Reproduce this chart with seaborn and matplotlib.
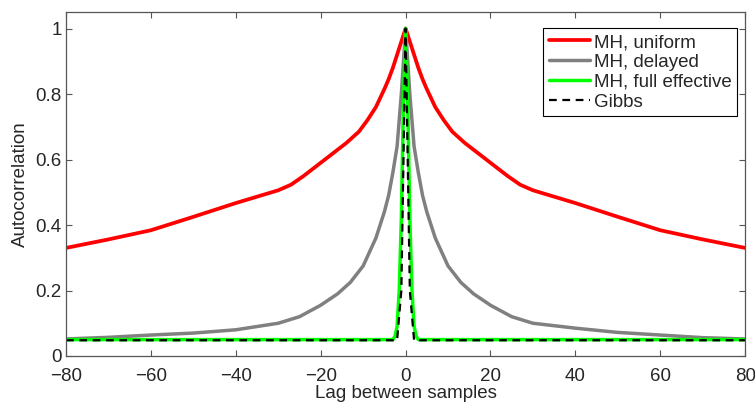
import numpy as np
import pandas as pd
import matplotlib
matplotlib.use("Agg")
import matplotlib.pyplot as plt
import seaborn as sns
from matplotlib.ticker import FuncFormatter

# ── Data ──────────────────────────────────────────────────────
uniform_lag = [-80, -70, -60, -50, -40, -30, -27, -24, -20, -17, -14, -11, -9, -7, -5, -4, -3, -2, -1, 0,
               1, 2, 3, 4, 5, 7, 9, 11, 14, 17, 20, 24, 27, 30, 40, 50, 60, 70, 80]
uniform_acf = [0.33, 0.356, 0.384, 0.425, 0.467, 0.506, 0.523, 0.55, 0.59, 0.62, 0.65, 0.685,
               0.72, 0.76, 0.815, 0.845, 0.88, 0.92, 0.96, 1.0,
               0.96, 0.92, 0.88, 0.845, 0.815, 0.76, 0.72, 0.685, 0.65, 0.62, 0.59, 0.55,
               0.523, 0.506, 0.467, 0.425, 0.384, 0.356, 0.33]

delayed_lag = [-80, -70, -60, -50, -40, -30, -25, -20, -16, -13, -10, -7, -5, -4, -3, -2, -1, 0,
               1, 2, 3, 4, 5, 7, 10, 13, 16, 20, 25, 30, 40, 50, 60, 70, 80]
delayed_acf = [0.052, 0.057, 0.064, 0.07, 0.08, 0.1, 0.12, 0.155, 0.19, 0.225, 0.275, 0.36,
               0.44, 0.49, 0.56, 0.64, 0.8, 1.0,
               0.8, 0.64, 0.56, 0.49, 0.44, 0.36, 0.275, 0.225, 0.19, 0.155, 0.12, 0.1,
               0.085, 0.072, 0.064, 0.056, 0.052]

full_lag = [-80, -3, -2.5, -2, -1.5, -1, -0.5, 0, 0.5, 1, 1.5, 2, 2.5, 3, 80]
full_acf = [0.05, 0.05, 0.06, 0.09, 0.2, 0.42, 0.78, 1.0, 0.78, 0.42, 0.2, 0.09, 0.06, 0.05, 0.05]

gibbs_lag = [-80, -2, -1, 0, 1, 2, 80]
gibbs_acf = [0.048, 0.048, 0.2, 1.0, 0.2, 0.048, 0.048]

sns.set_style("ticks")
plt.rcParams["font.family"] = ["Liberation Sans", "DejaVu Sans"]

fig = plt.figure(figsize=(7.55, 4.05), dpi=100)
ax = fig.add_axes([0.0874, 0.121, 0.8996, 0.849])

sns.lineplot(x=uniform_lag, y=uniform_acf, ax=ax, color=(1, 0, 0), linewidth=2.7,
             label="MH, uniform")
sns.lineplot(x=delayed_lag, y=delayed_acf, ax=ax, color=(0.5, 0.5, 0.5), linewidth=2.5,
             label="MH, delayed")
sns.lineplot(x=full_lag, y=full_acf, ax=ax, color=(0, 1, 0), linewidth=2.5,
             label="MH, full effective")
sns.lineplot(x=gibbs_lag, y=gibbs_acf, ax=ax, color="black", linewidth=1.6,
             linestyle=(0, (3.5, 2.5)), label="Gibbs")

ax.set_xlim(-80, 80)
ax.set_ylim(0, 1.05)
ax.set_xticks(np.arange(-80, 81, 20))
ax.set_yticks([0, 0.2, 0.4, 0.6, 0.8, 1.0])
ax.yaxis.set_major_formatter(FuncFormatter(lambda v, p: f"{v:g}"))

ax.tick_params(direction="in", top=True, right=True, length=4, width=0.8,
               color="#555555", labelsize=13.5)
ax.tick_params(axis="x", pad=9)
ax.tick_params(axis="y", pad=3)
for s in ax.spines.values():
    s.set_color("#555555")
    s.set_linewidth(0.9)

ax.set_xlabel("Lag between samples", fontsize=13.5, labelpad=0)
ax.set_ylabel("Autocorrelation", fontsize=13.5, labelpad=5)

leg = ax.legend(loc="upper right", bbox_to_anchor=(0.988, 0.953), borderaxespad=0,
                fontsize=13.5, frameon=True, fancybox=False, framealpha=1,
                edgecolor="black", handlelength=2.2, handletextpad=0.2,
                labelspacing=0.15, borderpad=0.3)
leg.get_frame().set_linewidth(0.8)

fig.savefig("out.png", dpi=100)
